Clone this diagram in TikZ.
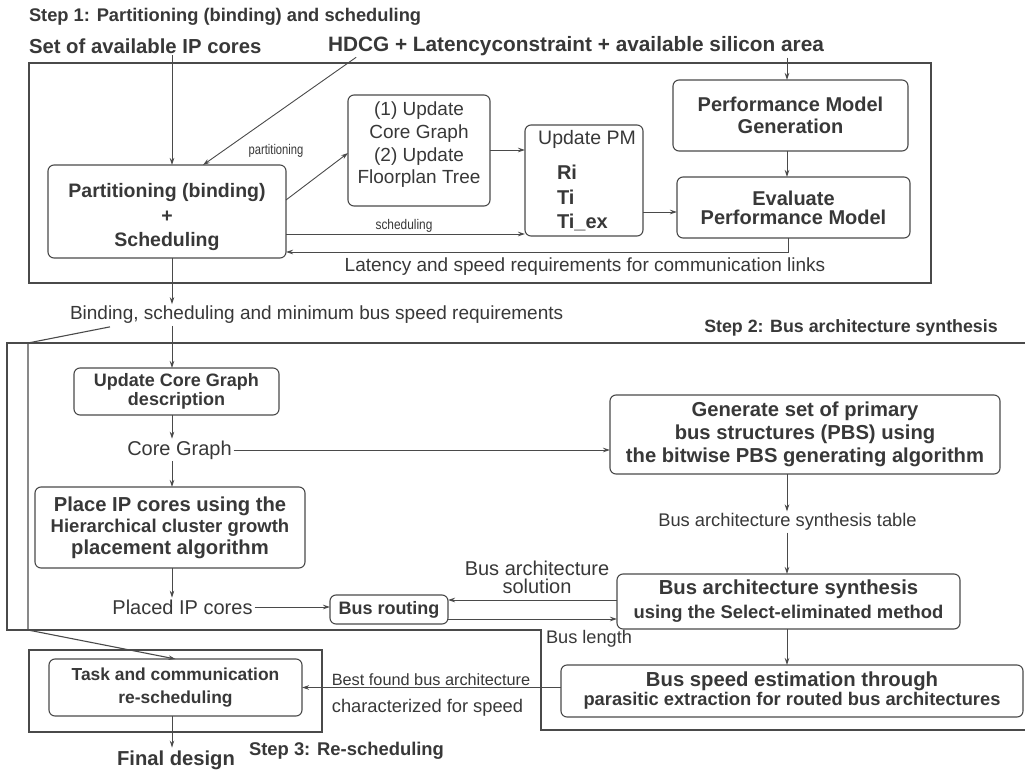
\documentclass[tikz,border=0pt]{standalone}
\usepackage{fontspec}
\setmainfont{Liberation Sans}
\usetikzlibrary{arrows.meta,calc}
\definecolor{ink}{HTML}{383838}
\definecolor{wirec}{HTML}{4A4A4A}

\begin{document}
\begin{tikzpicture}[x=1pt,y=-1pt,
  every node/.style={text=ink, inner sep=0pt, outer sep=0pt},
  procbox/.style={draw=wirec, line width=1.1pt, rounded corners=6pt, align=center},
  frame/.style={draw=wirec, line width=1.1pt},
  arr/.style={draw=wirec, line width=0.9pt, -{Stealth[length=7pt,width=4.5pt]}},
  link/.style={draw=wirec, line width=0.9pt},
  lbl/.style={font=\fontsize{19}{19}\selectfont},
  blbl/.style={font=\bfseries\fontsize{20}{20}\selectfont},
  tiny/.style={font=\fontsize{14}{14}\selectfont},
]
\useasboundingbox (0,0) rectangle (1025,773);
\fill[white] (0,0) rectangle (1025,773);

% column guides
\coordinate (colA) at (172,0);
\coordinate (colR) at (787,0);
\coordinate (colF) at (788,0);

% ---------------- Step 1 ----------------
\node[anchor=west, font=\bfseries\fontsize{18.3}{18}\selectfont] (st1) at (29,17) {Step 1: Partitioning (binding) and scheduling};
\node[anchor=west, font=\bfseries\fontsize{20.3}{20}\selectfont] (ipcores) at (29,46) {Set of available IP cores};
\node[anchor=west, font=\bfseries\fontsize{20.8}{20}\selectfont] (hdcg) at (328,46) {HDCG + Latencyconstraint + available silicon area};

\draw[frame] (29,63) rectangle (931,283);

\node[procbox, minimum width=238pt, minimum height=93pt] (part) at (167,211.5) {};
\node[align=center, font=\bfseries\fontsize{19.5}{24}\selectfont] (parttxt) at (167,217)
      {Partitioning (binding)\\+\\Scheduling};
\node[procbox, minimum width=142pt, minimum height=111pt] (ucg) at (419,150.5) {};
\node[align=center, font=\fontsize{19}{22.7}\selectfont] (ucgtxt) at (419,145)
      {(1) Update\\Core Graph\\(2) Update\\Floorplan Tree};
\node[procbox, minimum width=118pt, minimum height=111pt] (upm) at (584,180.5) {};
\node[lbl, font=\fontsize{19.5}{19}\selectfont] (upmhd) at (587,139) {Update PM};
\node[blbl, anchor=west] (ri) at (557,172) {Ri};
\node[blbl, anchor=west] (ti) at (557,197) {Ti};
\node[blbl, anchor=west] (tiex) at (557,222) {Ti\_ex};
\node[procbox, minimum width=235pt, minimum height=71pt,
      font=\bfseries\fontsize{20}{22}\selectfont] (pmg) at (790.5,115.5)
      {Performance Model\\Generation};
\node[procbox, minimum width=233pt, minimum height=61pt,
      font=\bfseries\fontsize{20}{19}\selectfont] (eval) at (793.5,207.5)
      {Evaluate\\Performance Model};

\node[tiny] (lpart) at (276,151) {\scalebox{0.8}[1]{partitioning}};
\node[tiny] (lsch) at (404,226) {\scalebox{0.85}[1]{scheduling}};
\node[lbl] (lat) at (585,267) {Latency and speed requirements for communication links};

\coordinate (hdtap) at ($(hdcg.south west)+(29,1)$);
\coordinate (partin) at ($(part.north)+(36,0)$);
\coordinate (y150) at (0,150);
\coordinate (y153) at (0,153);
\coordinate (y200) at (0,200);
\coordinate (y212) at (0,212);
\coordinate (schy) at (0,234);
\coordinate (fby) at (0,252);

\draw[arr, shorten <=2pt] (ipcores.south -| colA) -- (part.north -| colA);
\draw[arr, shorten <=1pt] (hdtap) -- (partin);
\draw[arr, shorten <=2pt] (hdcg.south -| colR) -- (pmg.north -| colR);
\draw[arr] (pmg.south -| colR) -- (eval.north -| colR);
\draw[arr] (part.east |- y200) -- (ucg.west |- y153);
\draw[arr] (ucg.east |- y150) -- (upm.west |- y150);
\draw[arr] (part.east |- schy) -- (upm.west |- schy);
\draw[arr] (upm.east |- y212) -- (eval.west |- y212);
\draw[arr] (eval.south -| colF) |- (part.east |- fby);

% ---------------- Step 2 ----------------
\node[lbl, anchor=west] (bind) at (70,315) {Binding, scheduling and minimum bus speed requirements};
\node[anchor=center, font=\bfseries\fontsize{17.8}{18}\selectfont] (st2) at (851,328) {Step 2: Bus architecture synthesis};

\draw[frame] (1025,343) -- (7,343) -- (7,630) -- (541,630) -- (541,730) -- (1025,730);

\node[procbox, minimum width=205pt, minimum height=47pt,
      font=\bfseries\fontsize{18}{19.5}\selectfont] (ucgd) at (176.5,391.5)
      {Update Core Graph\\description};
\node[lbl, font=\fontsize{20}{20}\selectfont] (cg) at (179.5,450) {Core Graph};
\node[procbox, minimum width=270pt, minimum height=81pt,
      font=\bfseries\fontsize{20.2}{21.5}\selectfont] (place) at (170,527.5)
      {Place IP cores using the\\{\fontsize{18.5}{21.5}\selectfont Hierarchical cluster growth}\\placement algorithm};
\node[lbl, font=\fontsize{20}{20}\selectfont] (placed) at (182.5,607) {Placed IP cores};
\node[procbox, minimum width=118pt, minimum height=29pt,
      font=\bfseries\fontsize{18}{18}\selectfont] (brout) at (389,609.5) {Bus routing};
\node[lbl, align=center, font=\fontsize{20}{18}\selectfont] (bsol) at (537,577) {Bus architecture\\solution};
\node[lbl, font=\fontsize{18.2}{18}\selectfont] (blen) at (589,639) {Bus length};

\node[procbox, minimum width=390pt, minimum height=79pt,
      font=\bfseries\fontsize{20.2}{23}\selectfont] (gen) at (805,434.5)
      {Generate set of primary\\bus structures (PBS) using\\the bitwise PBS generating algorithm};
\node[lbl, font=\fontsize{18.3}{18}\selectfont] (bast) at (787.5,522) {Bus architecture synthesis table};
\node[procbox, minimum width=343pt, minimum height=55pt,
      font=\bfseries\fontsize{20.3}{24}\selectfont] (bas) at (788.5,601.5)
      {Bus architecture synthesis\\{\fontsize{18.4}{24}\selectfont using the Select-eliminated method}};
\node[procbox, minimum width=462pt, minimum height=52pt,
      font=\bfseries\fontsize{20.3}{19}\selectfont] (bse) at (792,691)
      {Bus speed estimation through\\{\fontsize{18.3}{19}\selectfont parasitic extraction for routed bus architectures}};

\coordinate (bindtap) at ($(bind.south west)+(40,3)$);
\coordinate (y450) at (0,450);
\coordinate (y600) at (0,600);
\coordinate (y607) at (0,607);
\coordinate (y619) at (0,619);
\coordinate (kneeA) at (28,343);
\coordinate (kneeB) at (28,630);

\draw[arr] (part.south -| colA) -- ($(bind.north -| colA)+(0,-2)$);
\draw[arr, shorten <=2pt] (bind.south -| colA) -- (ucgd.north -| colA);
\draw[arr] (ucgd.south -| colA) -- ($(cg.north -| colA)+(0,-2)$);
\draw[arr, shorten <=2pt] (cg.south -| colA) -- (place.north -| colA);
\draw[arr, shorten <=2pt] (cg.east) -- (gen.west |- y450);
\draw[arr] (gen.south -| colR) -- ($(bast.north -| colR)+(0,-2)$);
\draw[arr, shorten <=2pt] (bast.south -| colR) -- (bas.north -| colR);
\draw[arr] (bas.south -| colR) -- (bse.north -| colR);
\draw[arr] (place.south -| colA) -- ($(placed.north -| colA)+(0,-2)$);
\draw[arr, shorten <=2pt] (placed.east) -- (brout.west |- y607);
\draw[arr] (bas.west |- y600) -- (brout.east |- y600);
\draw[arr] (brout.east |- y619) -- (bas.west |- y619);

% ---------------- Step 3 ----------------
\draw[frame] (29,650) rectangle (322,732);
\node[procbox, minimum width=253pt, minimum height=57pt,
      font=\bfseries\fontsize{17.4}{23}\selectfont] (task) at (175.5,687.5)
      {Task and communication\\re-scheduling};
\node[font=\bfseries\fontsize{20.2}{20}\selectfont] (final) at (176,760) {Final design};
\node[font=\bfseries\fontsize{18.4}{18}\selectfont] (st3) at (346.5,751) {Step 3: Re-scheduling};
\node[font=\fontsize{16.3}{16}\selectfont] (bestl) at (431,680) {Best found bus architecture};
\node[font=\fontsize{18.3}{18}\selectfont] (charl) at (427.5,708) {characterized for speed};

\draw[arr] (bse.west |- task.east) -- (task.east);
\draw[arr, shorten >=1pt] (task.south -| colA) -- ($(final.north -| colA)+(0,-2)$);
\draw[link, line width=1.1pt, -{Stealth[length=7pt,width=4.5pt]}] (bindtap) -- (kneeA) -- (kneeB) -- (task.north);

\end{tikzpicture}
\end{document}
